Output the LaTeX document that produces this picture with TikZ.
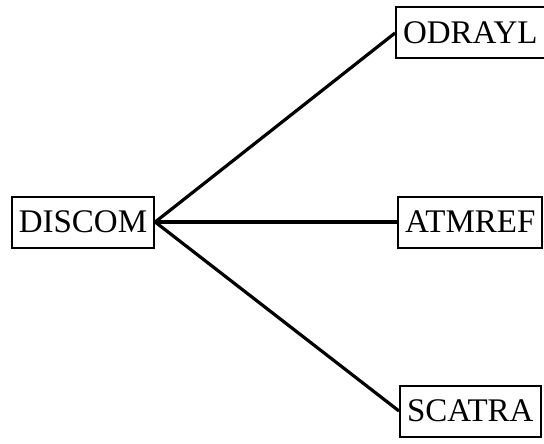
\documentclass[tikz,border=0pt]{standalone}
\usepackage{fontspec}
\setmainfont{Liberation Serif}
\usetikzlibrary{positioning}
\tikzset{
  modulo/.style={
    draw=black,
    line width=1pt,
    fill=white,
    align=center,
    minimum height=25.5pt,
    inner xsep=3.5pt,
    font=\fontsize{16.5}{19}\selectfont
  },
  enlace/.style={
    line width=1.6pt,
    black
  }
}
\begin{document}
\begin{tikzpicture}[node distance=68pt]
\useasboundingbox (0,0) rectangle (272pt,-221.5pt);
\node[modulo] (discom) at (41.5pt,-111pt) {DISCOM};
\node[modulo,right=121pt of discom] (atmref) {ATMREF};
\node[modulo,above=of atmref] (odrayl) {ODRAYL};
\node[modulo,below=of atmref] (scatra) {SCATRA};
\draw[enlace] (discom.east) -- (odrayl.west);
\draw[enlace] (discom.east) -- (atmref.west);
\draw[enlace] (discom.east) -- (scatra.west);
\end{tikzpicture}
\end{document}
